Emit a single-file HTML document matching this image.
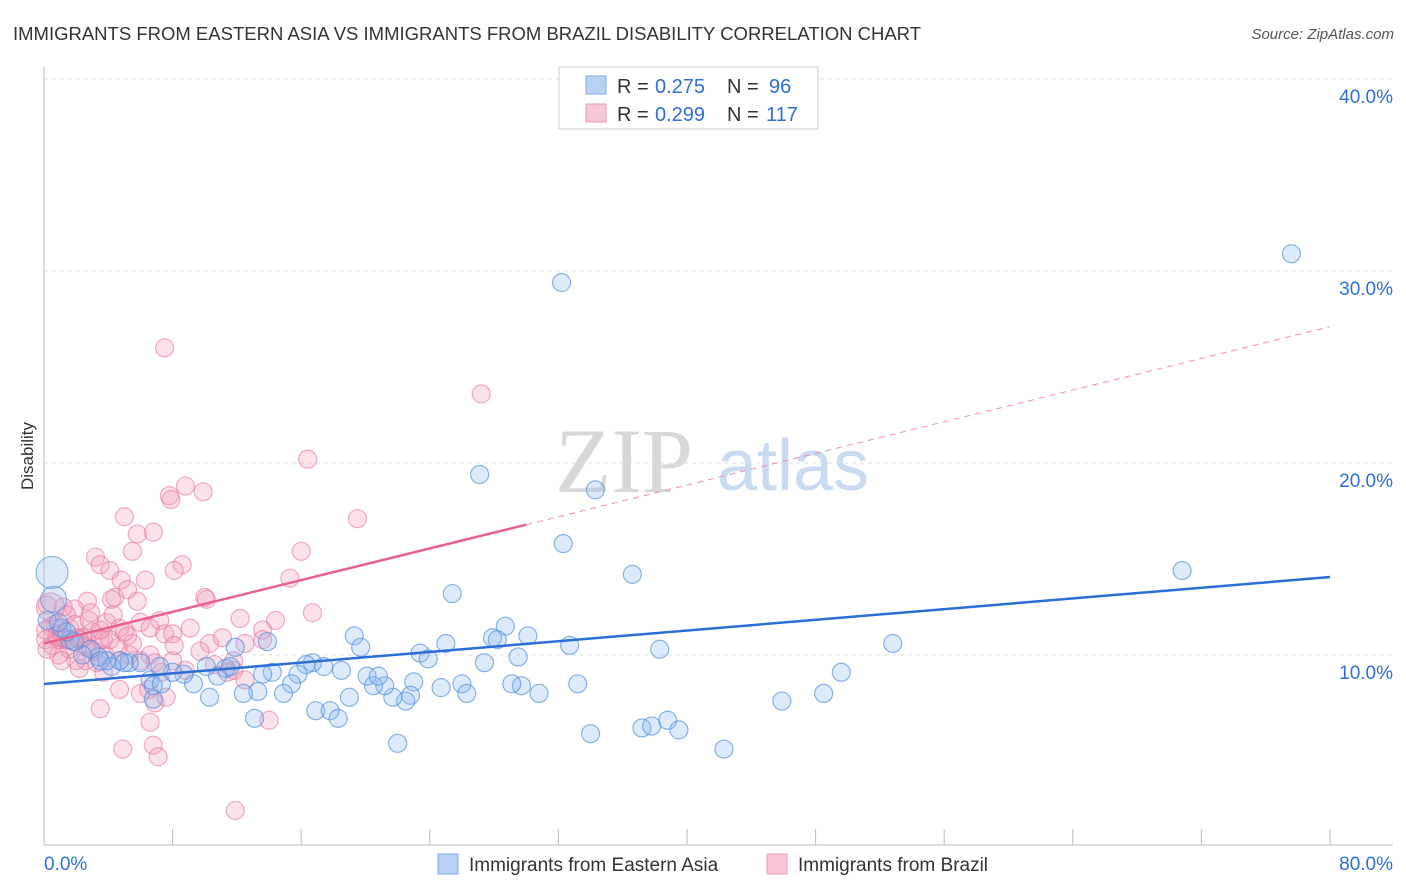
<!DOCTYPE html>
<html><head><meta charset="utf-8"><style>
body{margin:0;background:#fff;font-family:"Liberation Sans",sans-serif}
svg{display:block}
</style></head><body>
<svg id="chart" width="1406" height="892" xmlns="http://www.w3.org/2000/svg">
<text x="13" y="40" font-size="18.5" fill="#333" textLength="908">IMMIGRANTS FROM EASTERN ASIA VS IMMIGRANTS FROM BRAZIL DISABILITY CORRELATION CHART</text>
<text x="1394" y="39" font-size="15" fill="#555" text-anchor="end" font-style="italic">Source: ZipAtlas.com</text>
<text transform="translate(33,456) rotate(-90)" font-size="17" fill="#333" text-anchor="middle">Disability</text>
<text x="555" y="492" font-size="92" font-family="Liberation Serif,serif" fill="#d8d8d8">ZIP</text>
<text x="717" y="490" font-size="72" fill="#c9dbf1">atlas</text>
<g id="grid"></g><g id="pts"></g><g id="lines"></g>
<g>
<rect x="559" y="67" width="259" height="62" fill="#fff" stroke="#ccc"/>
<rect x="586" y="76" width="20" height="18" fill="#b9d2f4" stroke="#7fa9e4"/>
<rect x="586" y="104" width="20" height="18" fill="#f8c7d6" stroke="#eb9ab5"/>
<g font-size="20" fill="#333">
<text x="617" y="93">R =</text><text x="655" y="93" fill="#2f6fd4">0.275</text><text x="727" y="93">N =</text><text x="769" y="93" fill="#2f6fd4">96</text>
<text x="617" y="121">R =</text><text x="655" y="121" fill="#2f6fd4">0.299</text><text x="727" y="121">N =</text><text x="766" y="121" fill="#2f6fd4">117</text>
</g>
</g>
<g>
<rect x="438" y="854" width="20" height="20" fill="#b9d2f4" stroke="#7fa9e4"/>
<text x="469" y="871" font-size="19" fill="#333">Immigrants from Eastern Asia</text>
<rect x="767" y="854" width="20" height="20" fill="#f8c7d6" stroke="#eb9ab5"/>
<text x="798" y="871" font-size="19" fill="#333">Immigrants from Brazil</text>
</g>
<text x="44" y="870" font-size="19" fill="#2f6fd4">0.0%</text>
<text x="1393" y="870" font-size="19" fill="#2f6fd4" text-anchor="end">80.0%</text>
</svg>
<script>
const blueX=[32.2,77.6,27.1,34.3,32.3,36.6,70.8,25.4,28.7,27.9,28.2,30.1,32.7,38.3,52.8,29.5,27.4,23.4,23.9,25.0,19.3,19.7,49.6,48.5,45.9,33.2,30.8,29.7,29.1,26.0,24.7,26.3,23.0,22.8,22.5,21.7,21.2,20.5,20.1,20.8,19.0,18.5,17.4,16.7,16.3,15.8,15.4,14.9,14.2,13.6,13.3,12.4,11.9,13.9,16.9,17.8,18.3,22.0,13.1,34.0,37.2,37.8,38.8,39.5,42.3,10.3,9.3,8.7,8.0,7.2,6.6,6.8,6.0,5.3,4.7,4.2,3.9,3.4,2.9,2.4,1.6,1.1,0.6,0.5,0.2,11.3,10.8,10.1,11.6,7.3,6.8,5.0,3.5,1.9,1.4,0.9];
const blueY=[29.4,30.9,19.4,18.6,15.8,14.2,14.4,13.2,11.5,10.9,10.8,11.0,10.5,10.3,10.6,9.9,9.6,10.1,9.8,10.6,11.0,10.4,9.1,8.0,7.6,8.5,8.0,8.4,8.5,8.5,8.3,8.0,8.6,7.9,7.6,7.8,8.4,8.4,8.9,8.9,7.8,9.2,9.4,9.6,9.5,9.0,8.5,8.0,9.1,9.0,8.1,8.0,10.4,10.7,7.1,7.1,6.7,5.4,6.7,5.9,6.2,6.3,6.6,6.1,5.1,7.8,8.5,9.0,9.1,9.4,8.7,8.4,9.6,9.6,9.7,9.4,9.7,9.9,10.3,10.0,10.8,11.4,12.9,14.3,11.8,9.3,8.9,9.4,9.4,8.5,7.7,9.6,9.7,10.7,11.2,11.7];
const blueSize=blueX.map((v,i)=>i===82?13:(i===83?16:9));
const pinkX=[7.5,27.2,16.4,8.8,9.9,7.8,7.9,19.5,5.0,6.8,5.8,3.2,5.5,16.0,8.6,3.5,4.1,4.8,8.1,6.3,5.2,15.3,10.0,10.1,16.7,12.2,14.4,13.6,5.8,2.7,4.4,1.9,1.2,0.2,0.4,0.7,1.0,1.3,1.6,2.1,2.6,3.0,3.5,3.9,4.3,4.7,5.2,5.5,6.0,6.6,7.2,7.5,8.0,9.1,10.3,11.1,12.5,13.6,11.8,11.4,11.8,8.0,8.8,4.7,3.8,3.3,2.6,2.2,1.6,0.9,0.5,0.1,0.1,1.4,1.9,2.8,3.7,4.6,5.3,6.6,6.9,7.3,3.7,4.7,3.5,6.5,6.9,7.6,6.6,6.8,7.1,4.9,14.0,11.9,6.0,2.7,3.1,4.1,5.0,0.9,2.0,0.2,1.1,2.2,6.0,3.5,4.2,2.9,8.1,9.7,10.6,12.5,0.4,1.2,1.8,2.4,0.8];
const pinkY=[26.0,23.6,20.2,18.8,18.5,18.3,18.1,17.1,17.2,16.4,16.3,15.1,15.4,15.4,14.7,14.7,14.4,13.9,14.4,13.9,13.4,14.0,13.0,12.9,12.2,11.9,11.8,11.3,12.8,12.8,13.0,12.4,12.5,12.6,11.5,11.6,11.1,10.8,11.4,10.9,10.5,11.2,10.8,11.7,12.1,11.4,11.0,10.6,11.7,11.4,11.8,11.1,11.1,11.4,10.6,10.9,10.6,10.8,9.7,9.1,9.2,9.7,9.2,9.7,10.0,9.6,9.7,9.3,10.3,10.8,10.5,11.3,10.8,12.1,11.6,11.8,10.8,10.4,10.0,10.0,9.6,9.1,9.1,8.2,7.2,8.2,7.5,7.8,6.5,5.3,4.7,5.1,6.6,1.9,8.0,10.4,10.2,10.8,11.2,10.0,9.7,10.3,9.7,10.8,9.7,11.3,12.9,12.2,10.5,10.2,9.5,8.7,12.5,10.9,10.7,10.9,11.0];
const pinkSize=pinkX.map((v,i)=>i===112?14:9);
const yTicks=[10,20,30,40];
const yTickLabels=["10.0%","20.0%","30.0%","40.0%"];
const xTicks=[0,8,16,24,32,40,48,56,64,72,80];
const blueLine=[8.49,14.06];
const pinkLine=[10.6,27.1];
const pinkSolidEnd=30;

const NS="http://www.w3.org/2000/svg";
const X=v=>44+v*16.075, Y=v=>847-v*19.2;
function mk(tag,attrs,parent){const e=document.createElementNS(NS,tag);for(const k in attrs)e.setAttribute(k,attrs[k]);parent.appendChild(e);return e;}
const grid=document.getElementById('grid');
yTicks.forEach((t,i)=>{
 const l=mk('line',{x1:44,x2:1393,y1:Y(t),y2:Y(t),stroke:'#ddd','stroke-dasharray':'4,4'},grid);
 
 
 const tx=mk('text',{x:1393,y:Y(t)+24,'font-size':19,fill:'#2f6fd4','text-anchor':'end'},grid);
 tx.textContent=yTickLabels[i];
 
 
});
const ax=mk('line',{x1:44,x2:44,y1:67,y2:845,stroke:'#bbb'},grid);


const bx=mk('line',{x1:44,x2:1393,y1:845,y2:845,stroke:'#bbb'},grid);


xTicks.forEach(t=>{
 const l=mk('line',{x1:X(t),x2:X(t),y1:829,y2:845,stroke:'#bbb'},grid);
 
 
});
const pts=document.getElementById('pts');
pinkX.forEach((v,i)=>{
 const c=mk('circle',{cx:X(v),cy:Y(pinkY[i]),r:pinkSize[i],fill:'rgba(242,150,180,0.28)',stroke:'rgba(230,120,160,0.6)','stroke-width':1.2},pts);
 
 
});
blueX.forEach((v,i)=>{
 const c=mk('circle',{cx:X(v),cy:Y(blueY[i]),r:blueSize[i],fill:'rgba(140,185,240,0.3)',stroke:'rgba(80,140,220,0.65)','stroke-width':1.2},pts);
 
 
});
const lines=document.getElementById('lines');
const bl=mk('line',{x1:X(0),y1:Y(blueLine[0]),x2:X(80),y2:Y(blueLine[1]),stroke:'#2a6fd6','stroke-width':2.5},lines);


const pAt=x=>pinkLine[0]+(pinkLine[1]-pinkLine[0])*x/80;
const pl=mk('line',{x1:X(0),y1:Y(pinkLine[0]),x2:X(pinkSolidEnd),y2:Y(pAt(pinkSolidEnd)),stroke:'#e8628e','stroke-width':2.5},lines);


const pd=mk('line',{x1:X(pinkSolidEnd),y1:Y(pAt(pinkSolidEnd)),x2:X(80),y2:Y(pinkLine[1]),stroke:'#eb8fae','stroke-width':1,'stroke-dasharray':'6,5'},lines);


</script>
</body></html>
